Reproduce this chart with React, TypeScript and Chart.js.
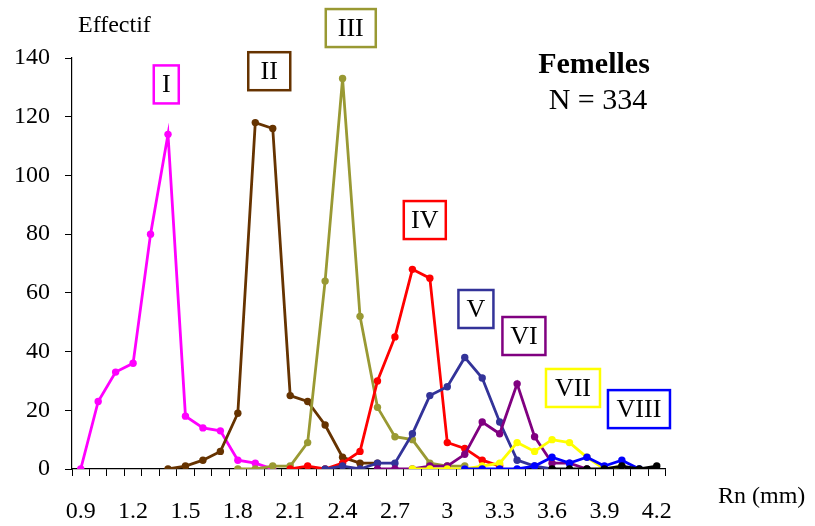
import React, { useEffect, useRef } from "react";
import { Chart, registerables } from "chart.js";

Chart.register(...registerables);

// Size classes of Rn (mm), one category per 0.1 mm
const categories = [
  "0.9", "1", "1.1", "1.2", "1.3", "1.4", "1.5", "1.6", "1.7", "1.8",
  "1.9", "2", "2.1", "2.2", "2.3", "2.4", "2.5", "2.6", "2.7", "2.8",
  "2.9", "3", "3.1", "3.2", "3.3", "3.4", "3.5", "3.6", "3.7", "3.8",
  "3.9", "4", "4.1", "4.2",
];

// Labels printed under the axis
const tickLabels = ["0.9", "1.2", "1.5", "1.8", "2.1", "2.4", "2.7", "3", "3.3", "3.6", "3.9", "4.2"];

// Effectif per class for each cohort, listed from its first class
const cohortI = [0, 23, 33, 36, 80, 114, 18, 14, 13, 3, 2, 0];
const cohortII = [0, 1, 3, 6, 19, 118, 116, 25, 23, 15, 4, 2, 2];
const cohortIII = [0, 0, 1, 1, 9, 64, 133, 52, 21, 11, 10, 2, 1, 1];
const cohortIV = [0, 1, 0, 2, 6, 30, 45, 68, 65, 9, 7, 3, 1];
const cohortV = [0, 1, 0, 2, 2, 12, 25, 28, 38, 31, 16, 3, 1, 0];
const cohortVI = [0, 0, 0, 1, 1, 5, 16, 12, 29, 11, 2, 2, 0];
const cohortVII = [0, 0, 0, 0, 1, 2, 9, 6, 10, 9, 4, 0, 1];
const cohortVIII = [0, 0, 0, 0, 1, 4, 2, 4, 1, 3, 0];
const cohortIX = [0, 0, 0, 0, 1, 0, 1];

// First class of each cohort
const cohortStarts = ["0.9", "1.4", "1.8", "2.1", "2.3", "2.6", "2.8", "3.1", "3.6"];
const cohortNames = ["I", "II", "III", "IV", "V", "VI", "VII", "VIII", "IX"];
const cohortValues = [cohortI, cohortII, cohortIII, cohortIV, cohortV, cohortVI, cohortVII, cohortVIII, cohortIX];
const cohortColors = [
  "#FF00FF", "#663300", "#999933", "#FF0000", "#333399",
  "#800080", "#FFFF00", "#0000FF", "#000000",
];

// Boxed cohort names, placed in data units (Rn, effectif)
const boxLabels = [
  { text: "I", rn: 1.39, eff: 131, w: 25, color: "#FF00FF" },
  { text: "II", rn: 1.98, eff: 135.5, w: 42, color: "#663300" },
  { text: "III", rn: 2.447, eff: 150.2, w: 50, color: "#999933" },
  { text: "IV", rn: 2.871, eff: 84.8, w: 42, color: "#FF0000" },
  { text: "V", rn: 3.164, eff: 54.5, w: 35, color: "#333399" },
  { text: "VI", rn: 3.439, eff: 45.3, w: 43, color: "#800080" },
  { text: "VII", rn: 3.72, eff: 27.6, w: 54, color: "#FFFF00" },
  { text: "VIII", rn: 4.098, eff: 20.4, w: 62, color: "#0000FF" },
];

const SERIF = "'Liberation Serif', 'Times New Roman', serif";

function padSeries(start: string, values: number[]): (number | null)[] {
  const first = categories.indexOf(start);
  return categories.map((_, i) => {
    const k = i - first;
    return k >= 0 && k < values.length ? values[k] : null;
  });
}

const annotations = {
  id: "annotations",
  afterDraw(chart: any) {
    const { ctx, scales } = chart;
    const x = scales.x;
    const y = scales.y;
    ctx.save();
    ctx.fillStyle = "#000";
    ctx.textBaseline = "middle";

    // axis titles
    ctx.font = `24px ${SERIF}`;
    ctx.textAlign = "left";
    ctx.fillText("Effectif", 78, 26);
    ctx.fillText("Rn (mm)", 718, 497);

    // sex and sample size
    ctx.textAlign = "center";
    ctx.font = `bold 30px ${SERIF}`;
    ctx.fillText("Femelles", 594, 65);
    ctx.font = `30px ${SERIF}`;
    ctx.fillText("N = 334", 598, 101);

    // cohort boxes
    ctx.font = `26px ${SERIF}`;
    for (const b of boxLabels) {
      const cx = x.getPixelForValue((b.rn - 0.9) / 0.1);
      const cy = y.getPixelForValue(b.eff);
      const h = 38;
      ctx.fillStyle = "#fff";
      ctx.fillRect(cx - b.w / 2, cy - h / 2, b.w, h);
      ctx.lineWidth = 2.5;
      ctx.strokeStyle = b.color;
      ctx.strokeRect(cx - b.w / 2, cy - h / 2, b.w, h);
      ctx.fillStyle = "#000";
      ctx.fillText(b.text, cx, cy + 1);
    }
    ctx.restore();
  },
};

export default function App() {
  const canvasRef = useRef<HTMLCanvasElement | null>(null);

  useEffect(() => {
    const canvas = canvasRef.current;
    if (!canvas) return;
    const datasets = cohortValues.map((vals, i) => ({
      label: cohortNames[i],
      data: padSeries(cohortStarts[i], vals),
      borderColor: cohortColors[i],
      backgroundColor: cohortColors[i],
      borderWidth: 2.8,
      pointRadius: 3.7,
      pointBorderWidth: 0,
      pointBackgroundColor: cohortColors[i],
      tension: 0,
      spanGaps: false,
      order: -i,
    }));

    const chart = new Chart(canvas, {
      type: "line",
      data: { labels: categories, datasets },
      options: {
        animation: false,
        responsive: false,
        layout: { padding: { left: 0, top: 58, right: 149.5, bottom: 0 } },
        plugins: {
          legend: { display: false },
          tooltip: { enabled: false },
        },
        scales: {
          x: {
            type: "category",
            offset: true,
            grid: {
              offset: true,
              drawOnChartArea: false,
              drawTicks: true,
              tickLength: 7,
              color: "#000",
            },
            border: { display: true, color: "#000", width: 1.2 },
            ticks: {
              autoSkip: false,
              maxRotation: 0,
              padding: 21,
              color: "#000",
              font: { family: SERIF, size: 24 },
              callback: (_v: any, i: number) =>
                tickLabels.includes(categories[i]) ? categories[i] : "",
            },
            afterFit: (scale: any) => {
              scale.height = 57;
            },
          },
          y: {
            min: 0,
            max: 140,
            grid: {
              drawOnChartArea: false,
              drawTicks: true,
              tickLength: 7,
              color: "#000",
            },
            border: { display: true, color: "#000", width: 1.2 },
            ticks: {
              stepSize: 20,
              padding: 15,
              color: "#000",
              font: { family: SERIF, size: 24 },
            },
            afterFit: (scale: any) => {
              scale.width = 72;
            },
          },
        },
      },
      plugins: [annotations],
    });
    return () => chart.destroy();
  }, []);

  return (
    <div style={{ position: "absolute", left: 0, top: 0, width: 815, height: 526, background: "#fff" }}>
      <canvas ref={canvasRef} width={815} height={526} style={{ display: "block" }} />
    </div>
  );
}
